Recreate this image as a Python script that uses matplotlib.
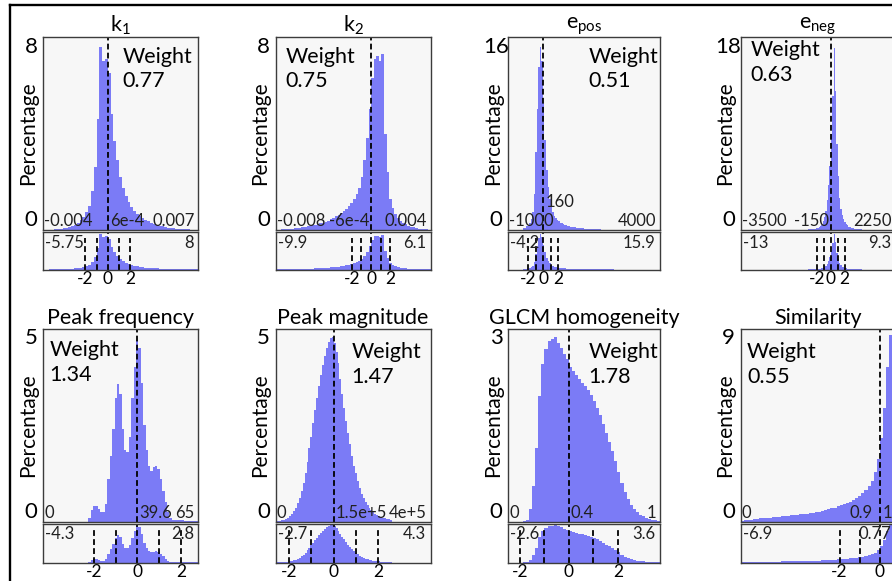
import numpy as np
import matplotlib
matplotlib.use("Agg")
import matplotlib.pyplot as plt
from matplotlib.lines import Line2D

plt.rcParams['font.family'] = ['Lato', 'DejaVu Sans']
plt.rcParams['mathtext.fontset'] = 'custom'
plt.rcParams['mathtext.rm'] = 'Lato'
plt.rcParams['mathtext.it'] = 'Lato:italic'

# ---------------------------------------------------------------- data
titles = [r'k$_\mathrm{1}$', r'k$_\mathrm{2}$', r'e$_\mathrm{pos}$', r'e$_\mathrm{neg}$',
          'Peak frequency', 'Peak magnitude', 'GLCM homogeneity', 'Similarity']
weights = ['0.77', '0.75', '0.51', '0.63', '1.34', '1.47', '1.78', '0.55']
y_max = [8, 8, 16, 18, 5, 5, 3, 9]

# raw value range and mean of each feature
x_min = [-0.004, -0.008, -1000, -3500, 0, 0, 0, 0]
x_mean = [6e-4, -6e-4, 160, -150, 39.6, 1.5e5, 0.4, 0.9]
x_max = [0.007, 0.004, 4000, 2250, 65, 4e5, 1, 1]
min_labels = ['-0.004', '-0.008', '-1000', '-3500', '0', '0', '0', '0']
mean_labels = ['6e-4', '-6e-4', '160', '-150', '39.6', '1.5e+5', '0.4', '0.9']
max_labels = ['0.007', '0.004', '4000', '2250', '65', '4e+5', '1', '1']

# range after standardisation (z-scores)
z_min = [-5.75, -9.9, -4.2, -13, -4.3, -2.7, -2.6, -6.9]
z_max = [8, 6.1, 15.9, 9.3, 2.8, 4.3, 3.6, 0.77]
z_min_labels = ['-5.75', '-9.9', '-4.2', '-13', '-4.3', '-2.7', '-2.6', '-6.9']
z_max_labels = ['8', '6.1', '15.9', '9.3', '2.8', '4.3', '3.6', '0.77']

# histogram range (raw units) and bin percentages
bin_lo = [-0.004, -0.008, -500, -1000, 0, 0, 0, 0]
bin_hi = [0.007, 0.004, 2500, 1000, 65, 3e5, 1, 1]

pct_k1 = [0.0, 0.0, 0.02, 0.02, 0.03, 0.04, 0.05, 0.07, 0.09, 0.12,
          0.16, 0.22, 0.3, 0.4, 0.55, 0.75, 1.0, 1.6, 2.6, 4.6,
          7.6, 7.0, 7.1, 6.5, 4.8, 3.7, 2.9, 2.2, 1.75, 1.4,
          1.15, 0.95, 0.8, 0.68, 0.58, 0.5, 0.42, 0.36, 0.3, 0.26,
          0.22, 0.18, 0.15, 0.12, 0.1, 0.08, 0.07, 0.06, 0.05, 0.04,
          0.03, 0.03, 0.02, 0.02, 0.01]
pct_k2 = [0.02, 0.02, 0.03, 0.03, 0.04, 0.05, 0.06, 0.07, 0.08, 0.1,
          0.11, 0.13, 0.15, 0.17, 0.19, 0.22, 0.25, 0.28, 0.31, 0.35,
          0.39, 0.44, 0.5, 0.56, 0.63, 0.7, 0.78, 0.88, 1.0, 1.12,
          1.3, 1.5, 1.75, 2.2, 2.9, 3.8, 5.0, 6.3, 7.1, 7.2,
          7.0, 7.3, 4.0, 2.4, 1.3, 0.9, 0.65, 0.5, 0.38, 0.3,
          0.24, 0.18, 0.14, 0.11, 0.08, 0.06, 0.05, 0.04, 0.03, 0.02]
pct_epos = [0.15, 0.2, 0.3, 0.4, 0.6, 0.9, 1.5, 3.0, 6.5, 10.0,
            13.5, 15.2, 14.0, 10.5, 7.5, 5.0, 3.6, 2.6, 1.9, 1.5,
            1.2, 1.0, 0.85, 0.72, 0.62, 0.54, 0.48, 0.43, 0.38, 0.34,
            0.31, 0.28, 0.25, 0.23, 0.21, 0.19, 0.17, 0.16, 0.14, 0.13,
            0.12, 0.11, 0.1, 0.09, 0.08, 0.08, 0.07, 0.06, 0.06, 0.05,
            0.05, 0.04, 0.04, 0.04, 0.03, 0.03, 0.03, 0.02, 0.02, 0.02]
pct_eneg = [0.05, 0.06, 0.07, 0.08, 0.1, 0.12, 0.15, 0.2, 0.25, 0.35,
            0.5, 0.8, 1.2, 1.8, 2.8, 4.2, 6.0, 9.0, 12.5, 17.0,
            13.0, 8.0, 5.0, 3.0, 2.0, 1.4, 1.0, 0.75, 0.55, 0.42,
            0.32, 0.25, 0.2, 0.16, 0.13, 0.1, 0.08, 0.07, 0.06, 0.05]
pct_peak_freq = [0, 0, 0, 0, 0, 0, 0, 0, 0, 0,
                 0, 0, 0, 0, 0, 0, 0, 0, 0, 0.1,
                 0.3, 0.41, 0.4, 0.33, 0.25, 0.24, 0.45, 1.1, 1.7, 2.4,
                 3.2, 3.55, 3.3, 2.4, 1.85, 1.8, 2.2, 3.2, 4.0, 4.7,
                 4.5, 3.6, 2.5, 1.85, 1.45, 1.32, 1.4, 1.45, 1.35, 1.1,
                 0.8, 0.5, 0.25, 0.08, 0.04, 0.04, 0.03, 0.03, 0.03, 0.02,
                 0.02, 0.02, 0.02, 0.01, 0.01]
pct_peak_mag = [0.0, 0.01, 0.02, 0.03, 0.05, 0.07, 0.1, 0.15, 0.2, 0.27,
                0.35, 0.47, 0.62, 0.8, 1.0, 1.25, 1.55, 1.9, 2.2, 2.55,
                2.9, 3.2, 3.5, 3.8, 4.05, 4.3, 4.5, 4.65, 4.75, 4.78,
                4.62, 4.4, 4.1, 3.7, 3.3, 2.95, 2.6, 2.3, 2.0, 1.7,
                1.45, 1.25, 1.05, 0.88, 0.72, 0.6, 0.5, 0.42, 0.35, 0.29,
                0.24, 0.2, 0.17, 0.14, 0.12, 0.1, 0.08, 0.07, 0.06, 0.05]
pct_glcm = [0, 0, 0, 0, 0, 0.01, 0.03, 0.2, 0.55, 1.15,
            1.95, 2.45, 2.68, 2.8, 2.83, 2.87, 2.78, 2.7, 2.6, 2.52,
            2.4, 2.34, 2.28, 2.22, 2.16, 2.1, 2.04, 1.97, 1.88, 1.77,
            1.65, 1.52, 1.38, 1.24, 1.09, 0.94, 0.77, 0.6, 0.46, 0.35,
            0.26, 0.19, 0.14, 0.1, 0.08, 0.06, 0.04, 0.03, 0.02, 0.01]
pct_similarity = [0.03, 0.05, 0.07, 0.09, 0.11, 0.13, 0.15, 0.16, 0.17, 0.18,
                  0.2, 0.21, 0.22, 0.24, 0.25, 0.27, 0.28, 0.3, 0.31, 0.33,
                  0.35, 0.37, 0.39, 0.41, 0.43, 0.46, 0.49, 0.53, 0.57, 0.61,
                  0.65, 0.7, 0.75, 0.8, 0.86, 0.93, 1.01, 1.1, 1.2, 1.32,
                  1.46, 1.65, 1.9, 2.3, 2.9, 3.9, 5.3, 7.2, 8.7, 8.0]
percentages = [pct_k1, pct_k2, pct_epos, pct_eneg,
               pct_peak_freq, pct_peak_mag, pct_glcm, pct_similarity]

# ---------------------------------------------------------------- layout
W, H = 892, 581
col_left = [43, 275.5, 508, 740.5]
col_width = [155, 155, 152, 155]
row_main = [(37, 230), (328.5, 521.5)]
row_low = [(232, 269.5), (523.5, 562.5)]

# where the "Weight" note sits (axes fraction, left / top)
weight_pos = [(0.515, 0.95), (0.065, 0.95), (0.53, 0.95), (0.065, 0.985),
              (0.04, 0.94), (0.49, 0.93), (0.53, 0.93), (0.043, 0.93)]
# mean label: which side of the mean line, gap to the line (pt), lifted or not
mean_side = ['left', 'right', 'left', 'right', 'left', 'left', 'left', 'right']
mean_gap = [1.5, 1.5, 1.5, 1.5, 1.5, 1.5, 1.5, 5.0]
mean_lift = [0, 0, 1, 0, 0, 0, 0, 0]

HIST_COLOR = '#7b7bf6'
BG = '#f7f7f7'
SPINE = '#3c3c3c'
DASH = (0, (3.2, 1.8))

fig = plt.figure(figsize=(W / 100, H / 100), dpi=100)


def box(left, width, top, bottom):
    return [left / W, 1 - bottom / H, width / W, (bottom - top) / H]


def style(ax):
    ax.set_facecolor(BG)
    for s in ax.spines.values():
        s.set_color(SPINE)
        s.set_linewidth(1.0)
    ax.tick_params(length=0)


for k in range(8):
    r, c = divmod(k, 4)
    left, width = col_left[c], col_width[c]
    edges = np.linspace(bin_lo[k], bin_hi[k], len(percentages[k]) + 1)
    std = (x_max[k] - x_min[k]) / (z_max[k] - z_min[k])

    # main histogram
    ax = fig.add_axes(box(left, width, *row_main[r]))
    style(ax)
    ax.stairs(percentages[k], edges, fill=True, color=HIST_COLOR, lw=0)
    ax.axvline(x_mean[k], color='black', lw=1.3, ls=DASH)
    ax.set_xlim(x_min[k], x_max[k])
    ax.set_ylim(0, y_max[k])
    ax.set_xticks([])
    ax.set_yticks([])
    ax.set_title(titles[k], fontsize=15.5, pad=3)

    ax.text(-12 / width, 0, '0', transform=ax.transAxes, ha='center', va='bottom',
            fontsize=16)
    ax.text(-12 / width, 1.0, str(y_max[k]), transform=ax.transAxes, ha='center',
            va='top', fontsize=16)
    ax.set_ylabel('Percentage', fontsize=15)
    ax.yaxis.set_label_coords(-5 / width, 0.5)

    wx, wy = weight_pos[k]
    ax.text(wx, wy, 'Weight\n' + weights[k], transform=ax.transAxes, ha='left',
            va='top', fontsize=15.5, linespacing=1.3)

    small = dict(fontsize=12, color='#202020')
    ax.annotate(min_labels[k], xy=(0, 0), xycoords='axes fraction',
                xytext=(1.0, 0.5), textcoords='offset points', ha='left',
                va='bottom', **small)
    ax.annotate(max_labels[k], xy=(1, 0), xycoords='axes fraction',
                xytext=(-2.5, 0.5), textcoords='offset points', ha='right',
                va='bottom', **small)
    dx = mean_gap[k] if mean_side[k] == 'left' else -mean_gap[k]
    dy = 0.5 + 14.0 * mean_lift[k]
    ax.annotate(mean_labels[k], xy=(x_mean[k], 0),
                xycoords=('data', 'axes fraction'), xytext=(dx, dy),
                textcoords='offset points',
                ha='left' if mean_side[k] == 'left' else 'right',
                va='bottom', **small)

    # standardised copy underneath
    lo = fig.add_axes(box(left, width, *row_low[r]))
    style(lo)
    lo.stairs(percentages[k], edges, fill=True, color=HIST_COLOR, lw=0)
    lo.set_xlim(x_min[k], x_max[k])
    lo.set_ylim(0, y_max[k])
    lo.set_yticks([])
    for z in (-2, -1, 0, 1, 2):
        xz = x_mean[k] + z * std
        if x_min[k] <= xz <= x_max[k]:
            lo.axvline(xz, ymax=1.0 if z == 0 else 0.85, color='black', lw=1.3,
                       ls=DASH)
    tick_z = [z for z in (-2, 0, 2) if x_min[k] <= x_mean[k] + z * std <= x_max[k]]
    lo.set_xticks([x_mean[k] + z * std for z in tick_z], [str(z) for z in tick_z])
    lo.tick_params(axis='x', labelsize=12.5, pad=1.0)
    lo.annotate(z_min_labels[k], xy=(0, 1), xycoords='axes fraction',
                xytext=(1.5, -2.0), textcoords='offset points', ha='left',
                va='top', **small)
    lo.annotate(z_max_labels[k], xy=(1, 1), xycoords='axes fraction',
                xytext=(-3, -2.0), textcoords='offset points', ha='right',
                va='top', **small)

# frame around the figure
fig.add_artist(Line2D([9.5 / W, 9.5 / W], [0, 1 - 4.5 / H], transform=fig.transFigure,
                      color='black', lw=1.7))
fig.add_artist(Line2D([9.5 / W, 1], [1 - 4.5 / H, 1 - 4.5 / H],
                      transform=fig.transFigure, color='black', lw=1.7))

fig.savefig('out.png', dpi=100, facecolor='white')
